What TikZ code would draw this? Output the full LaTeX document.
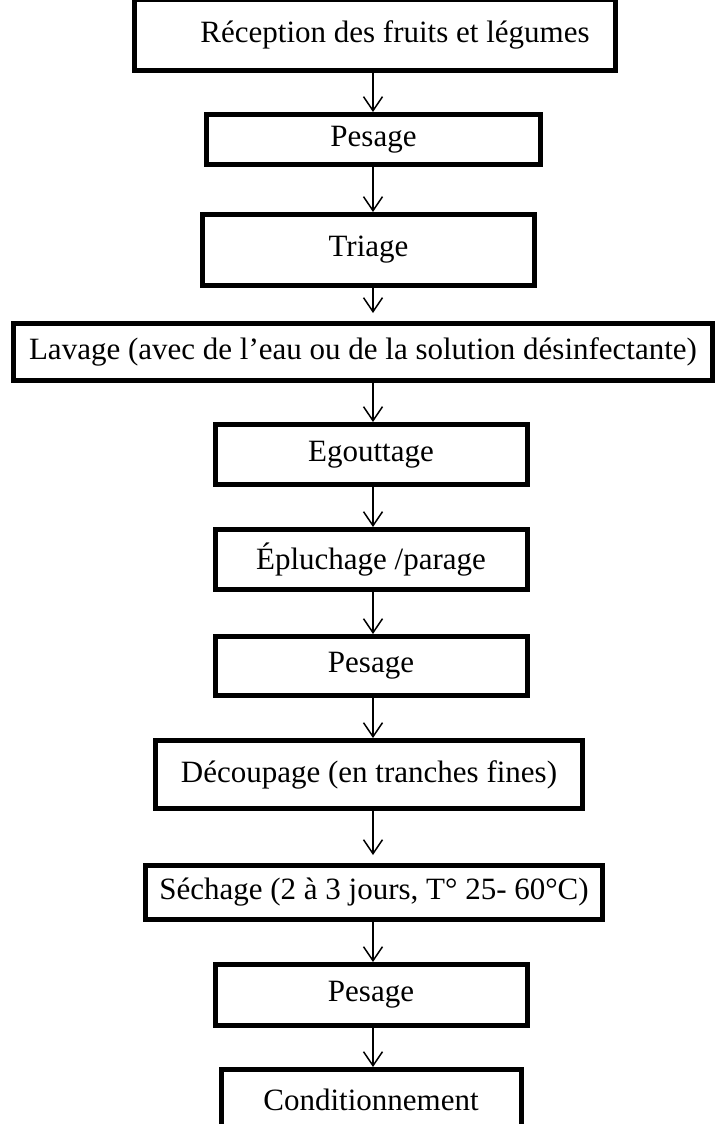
\documentclass[tikz,border=0pt]{standalone}
\usepackage{fontspec}
\setmainfont{Liberation Serif}
\usetikzlibrary{arrows.meta}
\begin{document}
\begin{tikzpicture}[x=1pt,y=-1pt,
  stepbox/.style={draw=black, line width=5pt, fill=white, inner sep=0pt,
    font=\fontsize{31}{36}\selectfont},
  flow/.style={line width=1.5pt, -{Straight Barb[length=14pt,width=19pt,line width=1.5pt]}}]
\useasboundingbox (0,0) rectangle (720,1124);
% boxes: center, path width, path height
\node[stepbox, minimum width=481pt, minimum height=70.5pt] (b1) at (375,35.25) {\hspace*{40pt}Réception des fruits et légumes};
\node[stepbox, minimum width=334pt, minimum height=50pt] (b2) at (373.5,139.5) {Pesage};
\node[stepbox, minimum width=332pt, minimum height=71pt] (b3) at (368.5,250) {Triage};
\node[stepbox, minimum width=699pt, minimum height=57pt] (b4) at (363,352) {Lavage (avec de l’eau ou de la solution désinfectante)};
\node[stepbox, minimum width=312pt, minimum height=60pt] (b5) at (371,454.5) {Egouttage};
\node[stepbox, minimum width=312pt, minimum height=60pt] (b6) at (371,559.5) {Épluchage /parage};
\node[stepbox, minimum width=312pt, minimum height=59pt] (b7) at (371,666) {Pesage};
\node[stepbox, minimum width=427pt, minimum height=68pt] (b8) at (369,774.5) {Découpage (en tranches fines)};
\node[stepbox, minimum width=457pt, minimum height=54pt] (b9) at (374,892.5) {Séchage (2 à 3 jours, T° 25- 60°C)};
\node[stepbox, minimum width=312pt, minimum height=61pt] (b10) at (371,995) {Pesage};
\node[stepbox, minimum width=300pt, minimum height=60pt] (b11) at (371,1099.5) {Conditionnement};
% connectors
\coordinate (ax) at (373,0);
\draw[flow] (b1.south -| ax) -- (b2.north -| ax);
\draw[flow] (b2.south -| ax) -- (b3.north -| ax);
\draw[flow, shorten >=8pt] (b3.south -| ax) -- (b4.north -| ax);
\draw[flow] (b4.south -| ax) -- (b5.north -| ax);
\draw[flow] (b5.south -| ax) -- (b6.north -| ax);
\draw[flow] (b6.south -| ax) -- (b7.north -| ax);
\draw[flow] (b7.south -| ax) -- (b8.north -| ax);
\draw[flow, shorten >=8pt] (b8.south -| ax) -- (b9.north -| ax);
\draw[flow] (b9.south -| ax) -- (b10.north -| ax);
\draw[flow] (b10.south -| ax) -- (b11.north -| ax);
\end{tikzpicture}
\end{document}
